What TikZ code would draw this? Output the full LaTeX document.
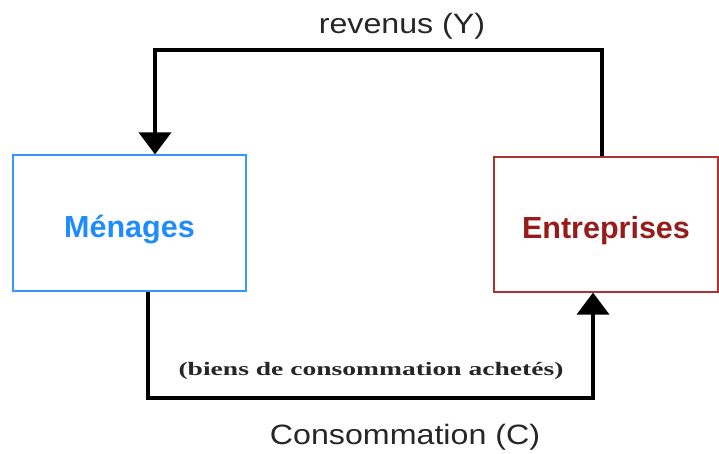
\documentclass[tikz,border=0pt]{standalone}
\usepackage{fontspec}
\setmainfont{Liberation Sans}
\newfontfamily\labelserif{Liberation Serif}
\usetikzlibrary{arrows.meta}
\definecolor{menblue}{RGB}{51,153,255}
\definecolor{mentext}{RGB}{30,140,255}
\definecolor{entred}{RGB}{170,50,50}
\definecolor{enttext}{RGB}{150,28,28}
\tikzset{
  agent/.style={draw, line width=1.2pt, inner sep=0pt, text height=28pt, text depth=0pt,
    font=\bfseries\fontsize{30.5}{32}\selectfont},
  flow/.style={line width=4pt, line join=miter, -{Triangle[width=32pt,length=22pt]}},
  flowlabel/.style={inner sep=0pt, font=\fontsize{28}{32}\selectfont, xscale=1.15, text=black!85},
  goods/.style={inner sep=0pt, font=\labelserif\bfseries\fontsize{19}{22}\selectfont, xscale=1.45, text=black!85}
}
\begin{document}
\begin{tikzpicture}[x=1pt,y=-1pt]
  \useasboundingbox (0,0) rectangle (719,453);
  % the two agents
  \node[agent, draw=menblue, text=mentext, minimum width=233pt, minimum height=136pt] (men) at (129.5,223) {Ménages};
  \node[agent, draw=entred, text=enttext, minimum width=224pt, minimum height=135pt] (ent) at (606,224.5) {Entreprises};
  % corners of the circuit
  \coordinate (tr) at (602,50);
  \coordinate (tl) at (155,50);
  \coordinate (bl) at (148,398);
  \coordinate (br) at (593,398);
  % income flow: firms to households
  \draw[flow] (ent.north -| tr) -- (tr) -- (tl) -- (tl |- men.north);
  % consumption flow: households to firms
  \draw[flow] (men.south -| bl) -- (bl) -- (br) -- (br |- ent.south);
  % labels
  \node[flowlabel] (rev) at (402,26) {revenus (Y)};
  \node[flowlabel] (cons) at (405,437) {Consommation (C)};
  \node[goods] (biens) at (371,371) {(biens de consommation achetés)};
\end{tikzpicture}
\end{document}
